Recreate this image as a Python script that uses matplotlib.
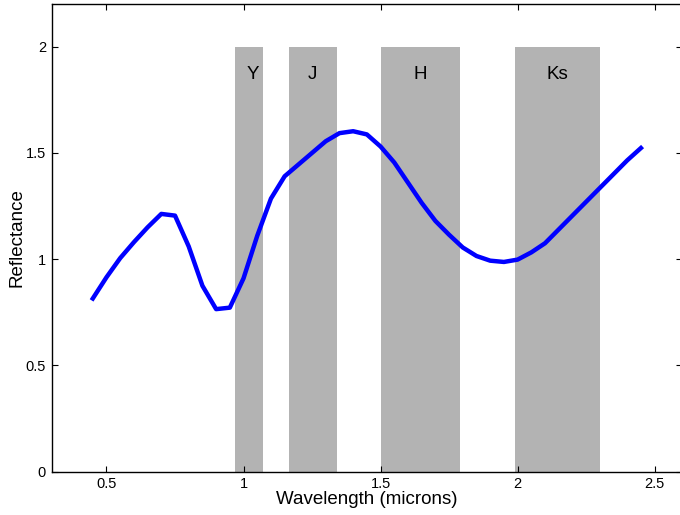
import numpy as np
import matplotlib.pyplot as plt

plt.rcParams['font.family'] = ['Liberation Sans', 'DejaVu Sans']

# spectrum, sampled every 0.05 micron
wavelength = np.arange(0.45, 2.451, 0.05)
reflectance = [0.815, 0.915, 1.005, 1.08, 1.15, 1.213, 1.205, 1.06, 0.875, 0.765,
               0.772, 0.91, 1.11, 1.285, 1.39, 1.445, 1.50, 1.555, 1.593, 1.602,
               1.587, 1.53, 1.455, 1.36, 1.265, 1.18, 1.115, 1.055, 1.015, 0.993,
               0.987, 0.998, 1.032, 1.075, 1.14, 1.205, 1.27, 1.335, 1.40, 1.465,
               1.523]

# photometric bands
band_names = ["Y", "J", "H", "Ks"]
band_lo = [0.97, 1.165, 1.50, 1.99]
band_hi = [1.07, 1.34, 1.79, 2.30]
band_label_x = [1.035, 1.25, 1.645, 2.145]
band_top = 2.0
label_y = 1.87

fig = plt.figure(figsize=(6.8, 5.15), dpi=100)
ax = fig.add_axes([0.076, 0.084, 0.927, 0.908])

for name, lo, hi, lx in zip(band_names, band_lo, band_hi, band_label_x):
    ax.bar(lo, band_top, width=hi - lo, align='edge', color='#b3b3b3',
           edgecolor='none', zorder=1)
    ax.text(lx, label_y, name, ha='center', va='center',
            fontsize=13.5, zorder=3)

ax.plot(wavelength, reflectance, color='#0000ff', linewidth=3.2, zorder=4)

ax.set_xlim(0.3, 2.6)
ax.set_ylim(0, 2.2)
ax.set_xticks([0.5, 1, 1.5, 2, 2.5])
ax.set_xticklabels(["0.5", "1", "1.5", "2", "2.5"])
ax.set_yticks([0, 0.5, 1, 1.5, 2])
ax.set_yticklabels(["0", "0.5", "1", "1.5", "2"])
ax.tick_params(direction='in', length=4.5, width=0.8, top=True, right=True,
               labelsize=10.5, pad=4)
for sp in ax.spines.values():
    sp.set_linewidth(1.0)

ax.set_xlabel("Wavelength (microns)", fontsize=13.5, labelpad=0)
ax.set_ylabel("Reflectance", fontsize=13.5, labelpad=0)

fig.savefig("out.png", dpi=100)
